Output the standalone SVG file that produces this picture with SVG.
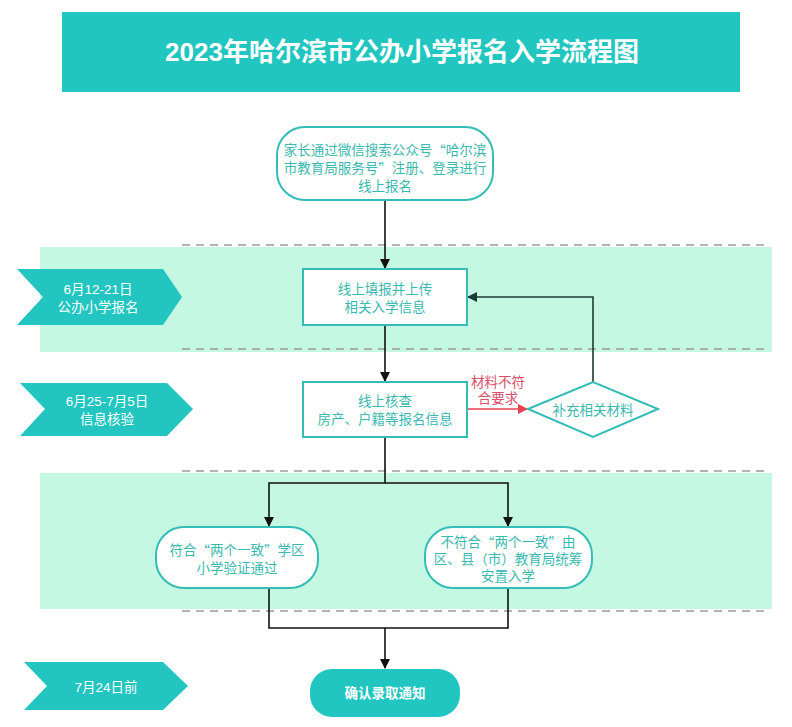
<svg xmlns="http://www.w3.org/2000/svg" width="792" height="727" viewBox="0 0 792 727">
<defs>
<style>
.t{font-family:"Liberation Sans","Noto Sans CJK SC",sans-serif;font-size:13.5px;text-anchor:middle;dominant-baseline:central}
.q{font-family:"Noto Sans CJK SC",sans-serif}
.tl{fill:#3ab9b0}
.w{fill:#ffffff}
.node{fill:#ffffff;stroke:#33bdb6;stroke-width:2}
.chev{fill:#22c5c0}
.band{fill:#c4f8e3}
.dash{stroke:#9a9a9a;stroke-width:1.5;stroke-dasharray:8,6;fill:none}
.ln{stroke:#111;stroke-width:1.6;fill:none}
</style>
<marker id="ah" viewBox="0 0 10 10" refX="9" refY="5" markerWidth="10" markerHeight="10" markerUnits="userSpaceOnUse" orient="auto"><path d="M0,0 L10,5 L0,10 Z" fill="#111"/></marker>
<marker id="ahd" viewBox="0 0 10 10" refX="9" refY="5" markerWidth="11" markerHeight="10" markerUnits="userSpaceOnUse" orient="auto"><path d="M0,0 L10,5 L0,10 Z" fill="#1e3a34"/></marker>
<marker id="ahr" viewBox="0 0 10 10" refX="9" refY="5" markerWidth="11" markerHeight="10" markerUnits="userSpaceOnUse" orient="auto"><path d="M0,0 L10,5 L0,10 Z" fill="#e8404e"/></marker>
</defs>

<g id="title">
<rect x="62" y="12" width="678" height="80" fill="#22c6c1"/>
<text x="402" y="52" class="t w" style="font-size:26px;font-weight:bold">2023年哈尔滨市公办小学报名入学流程图</text>
</g>

<g id="bands">
<rect class="band" x="40" y="247" width="732" height="105"/>
<line class="dash" x1="182" y1="245" x2="770" y2="245"/>
<line class="dash" x1="182" y1="349" x2="770" y2="349"/>
<rect class="band" x="40" y="473" width="732" height="136"/>
<line class="dash" x1="182" y1="471" x2="770" y2="471"/>
<line class="dash" x1="182" y1="611" x2="770" y2="611"/>
</g>

<g id="chevron1">
<polygon class="chev" points="17,269 163,269 182,297 163,325 17,325 43,297"/>
<text x="98" y="289" class="t w">6月12-21日</text>
<text x="98" y="307" class="t w">公办小学报名</text>
</g>
<g id="chevron2">
<polygon class="chev" points="20,383 167,383 193,409 167,436 20,436 45,409"/>
<text x="107" y="401" class="t w">6月25-7月5日</text>
<text x="107" y="419" class="t w">信息核验</text>
</g>
<g id="chevron3">
<polygon class="chev" points="24,662 163,662 188,686 163,710 24,710 47,686"/>
<text x="106" y="687" class="t w">7月24日前</text>
</g>

<g id="connectors">
<line class="ln" x1="385" y1="200" x2="385" y2="268" marker-end="url(#ah)"/>
<line class="ln" x1="385" y1="325" x2="385" y2="381" marker-end="url(#ah)"/>
<polyline points="593,382 593,297 468,297" fill="none" stroke="#1e3a34" stroke-width="1.6" marker-end="url(#ahd)"/>
<line x1="467" y1="409" x2="527" y2="409" stroke="#e8404e" stroke-width="1.6" marker-end="url(#ahr)"/>
<polyline class="ln" points="385,437 385,483 269,483 269,526" marker-end="url(#ah)"/>
<polyline class="ln" points="385,483 508,483 508,526" marker-end="url(#ah)"/>
<polyline class="ln" points="269,588 269,628 508,628 508,588"/>
<line class="ln" x1="385" y1="628" x2="385" y2="668" marker-end="url(#ah)"/>
<text x="498" y="382" class="t" style="fill:#d9506a">材料不符</text>
<text x="498" y="398" class="t" style="fill:#d9506a">合要求</text>
</g>

<g id="start">
<rect class="node" x="277" y="127" width="216" height="73" rx="28"/>
<text x="385" y="150" class="t tl">家长通过微信搜索公众号<tspan class="q">“</tspan>哈尔滨</text>
<text x="385" y="168" class="t tl">市教育局服务号<tspan class="q">”</tspan>注册、登录进行</text>
<text x="385" y="186" class="t tl">线上报名</text>
</g>

<g id="fill-upload">
<rect class="node" x="303" y="269" width="164" height="56"/>
<text x="385" y="289" class="t tl">线上填报并上传</text>
<text x="385" y="307" class="t tl">相关入学信息</text>
</g>

<g id="verify">
<rect class="node" x="303" y="382" width="164" height="55"/>
<text x="385" y="401" class="t tl">线上核查</text>
<text x="385" y="419" class="t tl">房产、户籍等报名信息</text>
</g>

<g id="supplement">
<polygon class="node" points="528,409 593,382 658,409 593,437"/>
<text x="593" y="410" class="t tl">补充相关材料</text>
</g>

<g id="pass">
<rect class="node" x="156" y="527" width="162" height="61" rx="28"/>
<text x="237" y="550" class="t tl">符合<tspan class="q">“</tspan>两个一致<tspan class="q">”</tspan>学区</text>
<text x="237" y="568" class="t tl">小学验证通过</text>
</g>

<g id="arrange">
<rect class="node" x="425" y="527" width="167" height="61" rx="28"/>
<text x="508" y="542" class="t tl">不符合<tspan class="q">“</tspan>两个一致<tspan class="q">”</tspan>由</text>
<text x="508" y="559" class="t tl">区、县（市）教育局统筹</text>
<text x="508" y="576" class="t tl">安置入学</text>
</g>

<g id="confirm">
<rect x="310" y="669" width="150" height="48" rx="22" fill="#22c6c1"/>
<text x="385" y="693" class="t w" style="font-weight:bold">确认录取通知</text>
</g>
</svg>
